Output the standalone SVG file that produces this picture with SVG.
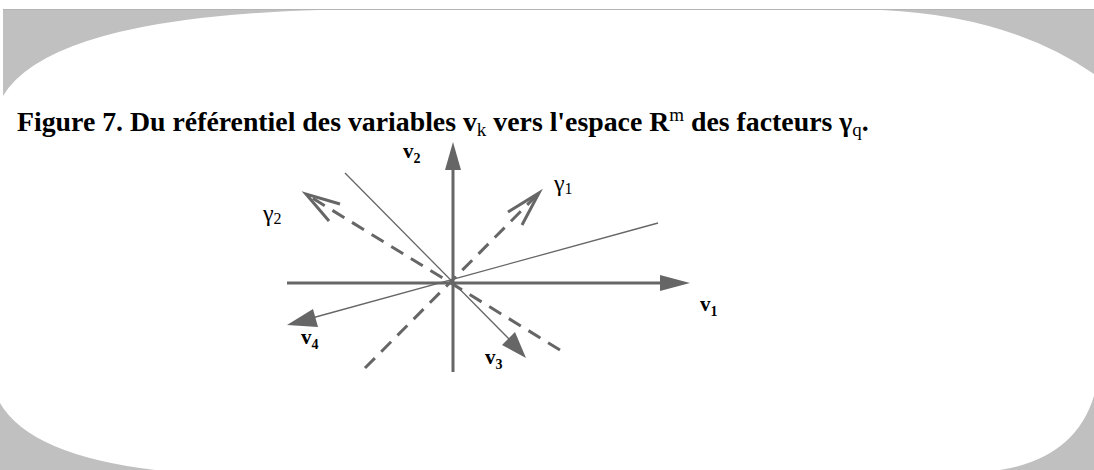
<svg xmlns="http://www.w3.org/2000/svg" width="1094" height="470" viewBox="0 0 1094 470">
<style>
.t{font-family:"Liberation Serif",serif;font-weight:bold;fill:#000}
.n{font-weight:normal}
.lbl{font-family:"Liberation Serif",serif;font-weight:bold;font-size:21px;fill:#000}
.gl{font-family:"Liberation Serif",serif;font-size:24px;fill:#000}
.ax{stroke:#666;stroke-width:3;fill:none}
.thin{stroke:#666;stroke-width:1.3;fill:none}
.dash{stroke:#666;stroke-width:3;fill:none;stroke-dasharray:14 9}
.open{stroke:#666;stroke-width:3;fill:none}
.head{fill:#666}
</style>
<rect width="1094" height="470" fill="#fff"/>
<g id="frame">
<rect x="3" y="9" width="1091" height="461" fill="#c0c0c0"/>
<rect x="0" y="200" width="3" height="270" fill="#c0c0c0"/>
<path d="M3,96 Q50,18 320,10 L882,10 Q1010,16 1094,74 L1094,396 Q1075,458 1000,470 L155,470 Q30,455 0,403 L0,96 Z" fill="#fff"/>
<line x1="3" y1="9.5" x2="1094" y2="9.5" stroke="#b4b4b4" stroke-width="1"/>
</g>
<g id="title">
<text class="t" x="17" y="131" font-size="27.8">Figure 7. Du référentiel des variables v<tspan class="n" font-size="19" dy="5">k</tspan><tspan dy="-5"> vers l'espace R</tspan><tspan class="n" font-size="19" dy="-10">m</tspan><tspan dy="10"> des facteurs γ</tspan><tspan class="n" font-size="19" dy="5">q</tspan><tspan dy="-5">.</tspan></text>
</g>
<g id="connectors">
<line class="ax" x1="453" y1="372" x2="453" y2="168"/>
<polygon class="head" points="453,142 445,170 461,170"/>
<line class="ax" x1="287" y1="283" x2="662" y2="283"/>
<polygon class="head" points="690,283 660,275 660,291"/>
<line class="thin" x1="345" y1="173" x2="512" y2="342"/>
<polygon class="head" points="526,358 502,345 515,332"/>
<line class="thin" x1="658" y1="223" x2="312" y2="318"/>
<polygon class="head" points="287,325 313,309 318,327"/>
<line class="dash" x1="365" y1="368" x2="536" y2="196"/>
<polyline class="open" points="508,212 539,193 522,225"/>
<line class="dash" x1="560" y1="350" x2="309" y2="196"/>
<polyline class="open" points="340,204 306,194 329,221"/>
</g>
<g id="labels">
<text class="lbl" x="403" y="158">v<tspan font-size="14" dy="5">2</tspan></text>
<text class="lbl" x="700" y="311">v<tspan font-size="14" dy="5">1</tspan></text>
<text class="lbl" x="485" y="364">v<tspan font-size="14" dy="5">3</tspan></text>
<text class="lbl" x="301" y="344">v<tspan font-size="14" dy="5">4</tspan></text>
<text class="gl" x="263" y="221">γ<tspan font-size="16" dy="3">2</tspan></text>
<text class="gl" x="554" y="191">γ<tspan font-size="16" dy="3">1</tspan></text>
</g>
</svg>
